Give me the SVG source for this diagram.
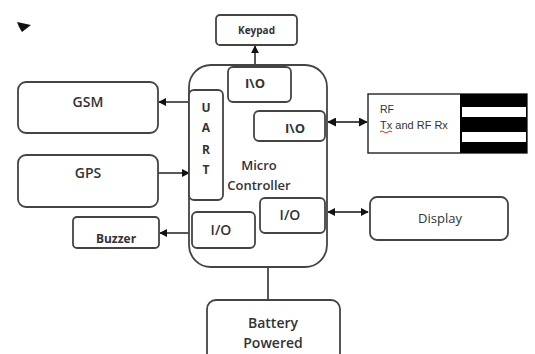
<svg xmlns="http://www.w3.org/2000/svg" width="535" height="354" viewBox="0 0 535 354">
<defs>
<style>
.box{fill:#fff;stroke:#444;stroke-width:1.8}
.t{font-family:"Open Sans","DejaVu Sans",sans-serif;fill:#333;text-anchor:middle}
.c{stroke:#111;stroke-width:1.4;fill:none}
</style>
<marker id="ah" viewBox="0 0 10 10" refX="9" refY="5" markerWidth="8" markerHeight="8" markerUnits="userSpaceOnUse" orient="auto-start-reverse"><path d="M0,0 L10,5 L0,10 z" fill="#111"/></marker>
<marker id="ahb" viewBox="0 0 10 10" refX="9" refY="5" markerWidth="9" markerHeight="9" markerUnits="userSpaceOnUse" orient="auto-start-reverse"><path d="M0,0 L10,5 L0,10 z" fill="#111"/></marker>
</defs>
<rect width="535" height="354" fill="#fff"/>
<polygon points="17,22 31,25 22,32 19,27" fill="#111"/>
<g id="connectors">
<line class="c" x1="255" y1="67" x2="255" y2="46" marker-end="url(#ah)"/>
<line class="c" x1="189" y1="102" x2="159" y2="102" marker-end="url(#ah)"/>
<line class="c" x1="158" y1="173" x2="189" y2="173" marker-end="url(#ah)"/>
<line class="c" x1="192" y1="233" x2="160" y2="233" marker-end="url(#ah)"/>
<line class="c" x1="328" y1="122" x2="367" y2="122" stroke-width="3" marker-start="url(#ahb)" marker-end="url(#ahb)"/>
<line class="c" x1="328" y1="212" x2="368" y2="212" marker-start="url(#ah)" marker-end="url(#ah)"/>
<line class="c" x1="268" y1="267" x2="268" y2="300"/>
</g>
<g id="keypad"><rect class="box" x="216" y="15" width="81" height="30" rx="4"/><text class="t" x="256.5" y="34" font-size="10" font-weight="bold">Keypad</text></g>
<g id="gsm"><rect class="box" x="18" y="82" width="140" height="51" rx="8"/><text class="t" x="88" y="107" font-size="14" font-weight="600">GSM</text></g>
<g id="gps"><rect class="box" x="18" y="155" width="140" height="52" rx="8"/><text class="t" x="88" y="178" font-size="14" font-weight="600">GPS</text></g>
<g id="buzzer"><rect class="box" x="73" y="217" width="86" height="31" rx="4"/><text class="t" x="116" y="243" font-size="12" font-weight="bold">Buzzer</text></g>
<g id="microcontroller">
<rect class="box" x="189" y="65" width="138" height="202" rx="22"/>
<text class="t" x="259" y="170" font-size="13" font-weight="600">Micro</text>
<text class="t" x="259" y="190" font-size="13" font-weight="600">Controller</text>
</g>
<g id="io-top"><rect class="box" x="228" y="67" width="63" height="35" rx="5"/><text class="t" x="255" y="88" font-size="13" font-weight="bold">I\O</text></g>
<g id="uart"><rect class="box" x="189" y="90" width="34" height="110" rx="5"/>
<text class="t" x="206" y="112" font-size="12" font-weight="bold">U</text>
<text class="t" x="206" y="132" font-size="12" font-weight="bold">A</text>
<text class="t" x="206" y="154" font-size="12" font-weight="bold">R</text>
<text class="t" x="206" y="174" font-size="12" font-weight="bold">T</text></g>
<g id="io-right"><rect class="box" x="254" y="111" width="71" height="30" rx="5"/><text class="t" x="295" y="133" font-size="13" font-weight="bold">I\O</text></g>
<g id="io-left"><rect class="box" x="192" y="212" width="63" height="36" rx="5"/><text class="t" x="221" y="235" font-size="14" font-weight="600">I/O</text></g>
<g id="io-right2"><rect class="box" x="260" y="198" width="65" height="35" rx="5"/><text class="t" x="290" y="220" font-size="14" font-weight="600">I/O</text></g>
<g id="display"><rect class="box" x="370" y="197" width="138" height="43" rx="7"/><text class="t" x="440" y="223" font-size="13" fill="#444">Display</text></g>
<g id="battery"><rect class="box" x="207" y="300" width="133" height="62" rx="9"/>
<text class="t" x="273" y="328" font-size="14" font-weight="600">Battery</text>
<text class="t" x="273" y="348" font-size="14" font-weight="600">Powered</text></g>
<g id="rf">
<rect x="368" y="94" width="159" height="59" fill="#fff" stroke="#222" stroke-width="1.4"/>
<text x="380" y="113" font-family="Liberation Sans,Arial,sans-serif" font-size="10.5" fill="#333">RF</text>
<text x="380" y="129" font-family="Liberation Sans,Arial,sans-serif" font-size="11" fill="#333">Tx and RF Rx</text>
<path d="M380,132 q2,-2 4,0 t4,0 t4,0" stroke="#c33" stroke-width="1" fill="none"/>
<rect x="460" y="94" width="67" height="59" fill="#000"/>
<rect x="462" y="107" width="64" height="10" fill="#fff"/>
<rect x="462" y="132" width="64" height="10" fill="#fff"/>
</g>
</svg>
